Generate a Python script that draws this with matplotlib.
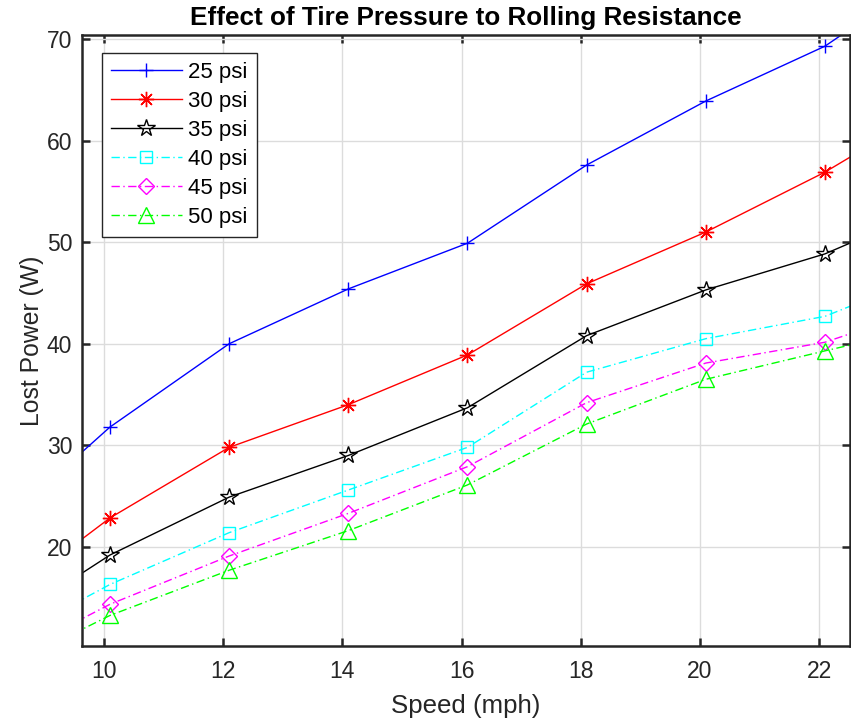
import matplotlib
matplotlib.use('Agg')
import matplotlib.pyplot as plt

plt.rcParams['font.family'] = ['Liberation Sans', 'DejaVu Sans']

# speed points (mph); first and last lie just outside the visible range
speed = [8.1, 10.1, 12.1, 14.1, 16.1, 18.1, 20.1, 22.1, 24.1]

psi25 = [21.3, 31.8, 40.0, 45.4, 49.9, 57.6, 63.9, 69.3, 77.3]
psi30 = [14.0, 22.85, 29.8, 34.0, 38.9, 45.9, 51.0, 56.9, 63.9]
psi35 = [11.6, 19.2, 24.9, 29.0, 33.7, 40.8, 45.3, 48.85, 53.9]
psi40 = [10.0, 16.3, 21.4, 25.6, 29.8, 37.2, 40.5, 42.7, 47.4]
psi45 = [8.25, 14.35, 19.1, 23.3, 27.9, 34.2, 38.1, 40.15, 44.1]
psi50 = [7.4, 13.25, 17.7, 21.6, 26.1, 32.1, 36.5, 39.3, 42.0]

labels = ['25 psi', '30 psi', '35 psi', '40 psi', '45 psi', '50 psi']
xticks = [10, 12, 14, 16, 18, 20, 22]
yticks = [20, 30, 40, 50, 60, 70]

dashdot = (0, (6, 2.5, 1, 2.5))
styles = [
    dict(color='#0000ff', marker='+', ms=10, ls='-'),
    dict(color='#ff0000', marker=(8, 2, 0), ms=11, ls='-'),
    dict(color='#000000', marker='*', ms=13, ls='-', mfc='none'),
    dict(color='#00ffff', marker='s', ms=9, ls=dashdot, mfc='none'),
    dict(color='#ff00ff', marker='D', ms=8, ls=dashdot, mfc='none'),
    dict(color='#00ff00', marker='^', ms=12, ls=dashdot, mfc='none'),
]

fig = plt.figure(figsize=(8.51, 7.23), dpi=100)
ax = fig.add_axes([82 / 851, (723 - 645.7) / 723, 768 / 851, (645.7 - 35) / 723])

for ys, lab, st in zip([psi25, psi30, psi35, psi40, psi45, psi50], labels, styles):
    ax.plot(speed, ys, label=lab, lw=1.0, mew=1.0, **st)

ax.set_xlim(9.63, 22.52)
ax.set_ylim(10.27, 70.4)
ax.set_xticks(xticks)
ax.set_yticks(yticks)
ax.grid(True, color='#dcdcdc', lw=1)
ax.set_axisbelow(True)

for s in ax.spines.values():
    s.set_linewidth(1.8)
    s.set_color('#262626')
ax.tick_params(direction='in', length=6, width=1.8, colors='#262626',
               labelsize=16.5, top=True, right=True)
ax.tick_params(axis='x', pad=10.5)
ax.tick_params(axis='y', pad=7)

ax.set_xlabel('Speed (mph)', fontsize=18.6, color='#262626', labelpad=8)
ax.set_ylabel('Lost Power (W)', fontsize=17.8, color='#262626', labelpad=2)
ax.set_title('Effect of Tire Pressure to Rolling Resistance', fontsize=18.8,
             fontweight='bold', pad=7)

leg = ax.legend(loc='upper left', bbox_to_anchor=(0.0257, 0.970), borderaxespad=0,
                fontsize=16, handlelength=3.2, handletextpad=0.3, labelspacing=0.36,
                fancybox=False, edgecolor='#262626', framealpha=1, borderpad=0.4)
leg.get_frame().set_linewidth(1.0)

fig.savefig('out.png', dpi=100)
